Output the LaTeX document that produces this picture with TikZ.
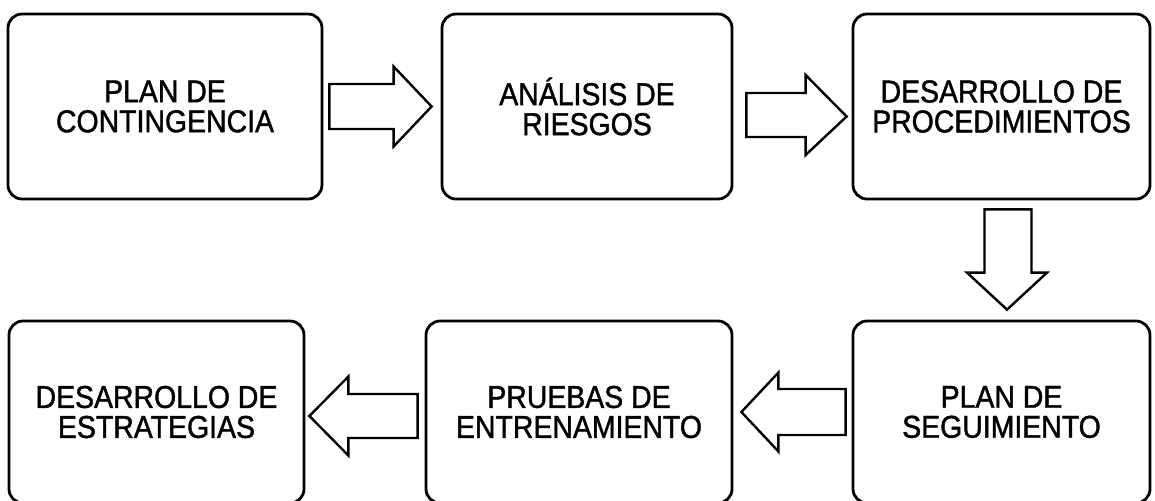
\documentclass[tikz,border=0pt]{standalone}
\usepackage{fontspec}
\setmainfont{Liberation Sans}[FakeStretch=0.9, FakeBold=1.3]
\usetikzlibrary{positioning,calc}

\tikzset{
    paso/.style={draw, line width=1.4pt, rounded corners=7pt, inner sep=0pt,
        align=center, font=\fontsize{15.8}{15}\selectfont},
    flecha/.style={draw, line width=1.2pt, line join=miter, fill=white}
}

\begin{document}
\begin{tikzpicture}[x=0.5pt, y=-0.5pt]
    \useasboundingbox (0,0) rectangle (1155,500);

    % Top row
    \node[paso, minimum width=157pt, minimum height=92.5pt] (P1) at (165,106.5) {PLAN DE\\CONTINGENCIA};
    \node[paso, minimum width=145pt, minimum height=92.5pt] (P2) at (587,106.5) {ANÁLISIS DE\\RIESGOS};
    \node[paso, minimum width=148.5pt, minimum height=92.5pt] (P3) at (1001.5,106.5) {DESARROLLO DE\\PROCEDIMIENTOS};

    % Bottom row
    \node[paso, minimum width=148.5pt, minimum height=91pt] (P4) at (1001.5,412) {PLAN DE\\SEGUIMIENTO};
    \node[paso, minimum width=153pt, minimum height=91pt] (P5) at (579,412) {PRUEBAS DE\\ENTRENAMIENTO};
    \node[paso, minimum width=147.5pt, minimum height=91pt] (P6) at (156.5,412) {DESARROLLO DE\\ESTRATEGIAS};

    % Arrows between steps
    \draw[flecha] ($(P1.east)+(6,-22.5)$) -- ($(P2.west)+(-47,-22.5)$) -- ($(P2.west)+(-47,-40)$)
        -- ($(P2.west)+(-9,0)$) -- ($(P2.west)+(-47,40)$) -- ($(P2.west)+(-47,22.5)$)
        -- ($(P1.east)+(6,22.5)$) -- cycle;
    \draw[flecha] ($(P2.east)+(13,-13.5)$) -- ($(P3.west)+(-46,-13.5)$) -- ($(P3.west)+(-46,-31.5)$)
        -- ($(P3.west)+(-5,10)$) -- ($(P3.west)+(-46,48.5)$) -- ($(P3.west)+(-46,30.5)$)
        -- ($(P2.east)+(13,30.5)$) -- cycle;
    \draw[flecha] ($(P3.south)+(-17,9)$) -- ($(P4.north)+(-17,-47)$) -- ($(P4.north)+(-34.5,-47)$)
        -- ($(P4.north)+(5.5,-10)$) -- ($(P4.north)+(45.5,-47)$) -- ($(P4.north)+(30,-47)$)
        -- ($(P3.south)+(30,9)$) -- cycle;
    \draw[flecha] ($(P4.west)+(-6,-23)$) -- ($(P5.east)+(45,-23)$) -- ($(P5.east)+(45,-39.5)$)
        -- ($(P5.east)+(8,0)$) -- ($(P5.east)+(45,39.5)$) -- ($(P5.east)+(45,23)$)
        -- ($(P4.west)+(-6,23)$) -- cycle;
    \draw[flecha] ($(P5.west)+(-7,-18)$) -- ($(P6.east)+(43,-18)$) -- ($(P6.east)+(43,-35.5)$)
        -- ($(P6.east)+(4,4)$) -- ($(P6.east)+(43,43.5)$) -- ($(P6.east)+(43,26)$)
        -- ($(P5.west)+(-7,26)$) -- cycle;
\end{tikzpicture}
\end{document}
